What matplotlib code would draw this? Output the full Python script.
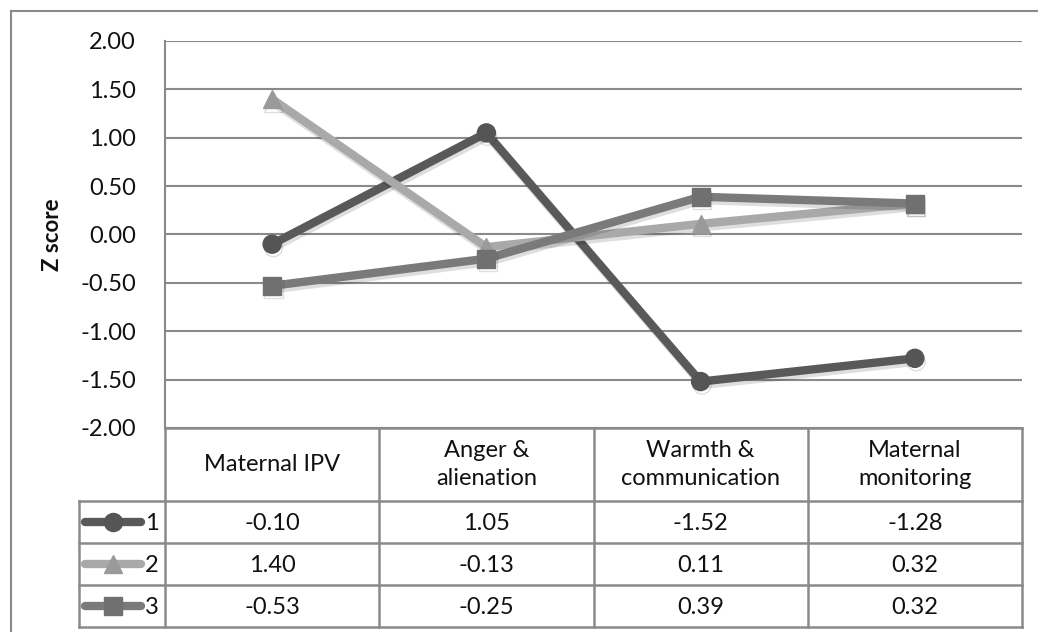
import matplotlib.pyplot as plt
import matplotlib.patheffects as pe
from matplotlib.lines import Line2D

plt.rcParams['font.family'] = ['Lato', 'DejaVu Sans']

categories = ['Maternal IPV', 'Anger &\nalienation', 'Warmth &\ncommunication', 'Maternal\nmonitoring']
series_names = ['1', '2', '3']
s1 = [-0.10, 1.05, -1.52, -1.28]
s2 = [1.40, -0.13, 0.11, 0.32]
s3 = [-0.53, -0.25, 0.39, 0.32]
yticks = [2.0, 1.5, 1.0, 0.5, 0.0, -0.5, -1.0, -1.5, -2.0]

W, H = 1038, 632
fig = plt.figure(figsize=(W / 100, H / 100), dpi=100)

grid_c = '#8a8a8a'
txt_c = '#111111'
line_colors = ['#595959', '#a9a9a9', '#7a7a7a']
marker_colors = ['#555555', '#9a9a9a', '#707070']
markers = ['o', '^', 's']
data = [s1, s2, s3]
fs = 17

# outer chart border
fig.add_artist(Line2D([11 / W, 11 / W], [0, 1 - 11 / H], color=grid_c, lw=1.5))
fig.add_artist(Line2D([11 / W, 1], [1 - 11 / H, 1 - 11 / H], color=grid_c, lw=1.5))

# main plot
ax = fig.add_axes([165 / W, 1 - 428 / H, (1022 - 165) / W, (428 - 41) / H])
ax.set_xlim(-0.5, 3.5)
ax.set_ylim(-2, 2)
ax.set_yticks(yticks)
ax.set_yticklabels(['%.2f' % v for v in yticks], fontsize=fs, color=txt_c)
ax.tick_params(axis='y', length=0, pad=21)
ax.set_xticks([])
for sp in ['top', 'right', 'bottom']:
    ax.spines[sp].set_visible(False)
ax.spines['left'].set_color(grid_c)
ax.spines['left'].set_linewidth(1.5)
for v in yticks:
    ax.axhline(v, color=grid_c, lw=1.5, zorder=1)
ax.set_ylabel('Z score', fontsize=16, fontweight='bold', labelpad=12, color=txt_c)

shadow = [pe.SimpleLineShadow(offset=(1, -2.5), shadow_color='black', alpha=0.13), pe.Normal()]
xs = list(range(len(categories)))
for vals, lc, mc, mk in zip(data, line_colors, marker_colors, markers):
    ax.plot(xs, vals, color=lc, lw=6, marker=mk, ms=13, mfc=mc, mec=mc,
            solid_capstyle='round', zorder=3, path_effects=shadow, clip_on=False)

# data table
px = 214.25
tax = fig.add_axes([79 / W, 1 - 627 / H, (1022 - 79) / W, (627 - 428) / H])
tax.set_xlim(-0.5 - 86 / px, 3.5)
tax.set_ylim(199, 0)
tax.axis('off')
x0 = -0.5 - 86 / px
rows = [0, 73, 115, 157, 199]
lk = dict(color=grid_c, lw=1.8, clip_on=False)

# header row (no legend cell)
tax.plot([-0.5, 3.5], [rows[0], rows[0]], **lk)
for b in [-0.5, 0.5, 1.5, 2.5, 3.5]:
    tax.plot([b, b], [rows[0], rows[-1]], **lk)
tax.plot([x0, x0], [rows[1], rows[-1]], **lk)
for r in rows[1:]:
    tax.plot([x0, 3.5], [r, r], **lk)

for i, c in enumerate(categories):
    tax.text(i, rows[1] / 2, c, ha='center', va='center', fontsize=fs,
             linespacing=1.45, color=txt_c)

for j, (name, vals, lc, mc, mk) in enumerate(zip(series_names, data, line_colors, marker_colors, markers)):
    yc = (rows[j + 1] + rows[j + 2]) / 2
    kx = [x0 + 6 / px, x0 + 62 / px]
    tax.plot(kx, [yc, yc], color=lc, lw=6, solid_capstyle='round', clip_on=False)
    tax.plot([(kx[0] + kx[1]) / 2], [yc], marker=mk, ms=13, mfc=mc, mec=mc, clip_on=False)
    tax.text(x0 + 66 / px, yc + 1, name, ha='left', va='center', fontsize=fs, color=txt_c)
    for i, v in enumerate(vals):
        tax.text(i, yc + 1, '%.2f' % v, ha='center', va='center', fontsize=fs, color=txt_c)

fig.savefig('out.png', dpi=100)
